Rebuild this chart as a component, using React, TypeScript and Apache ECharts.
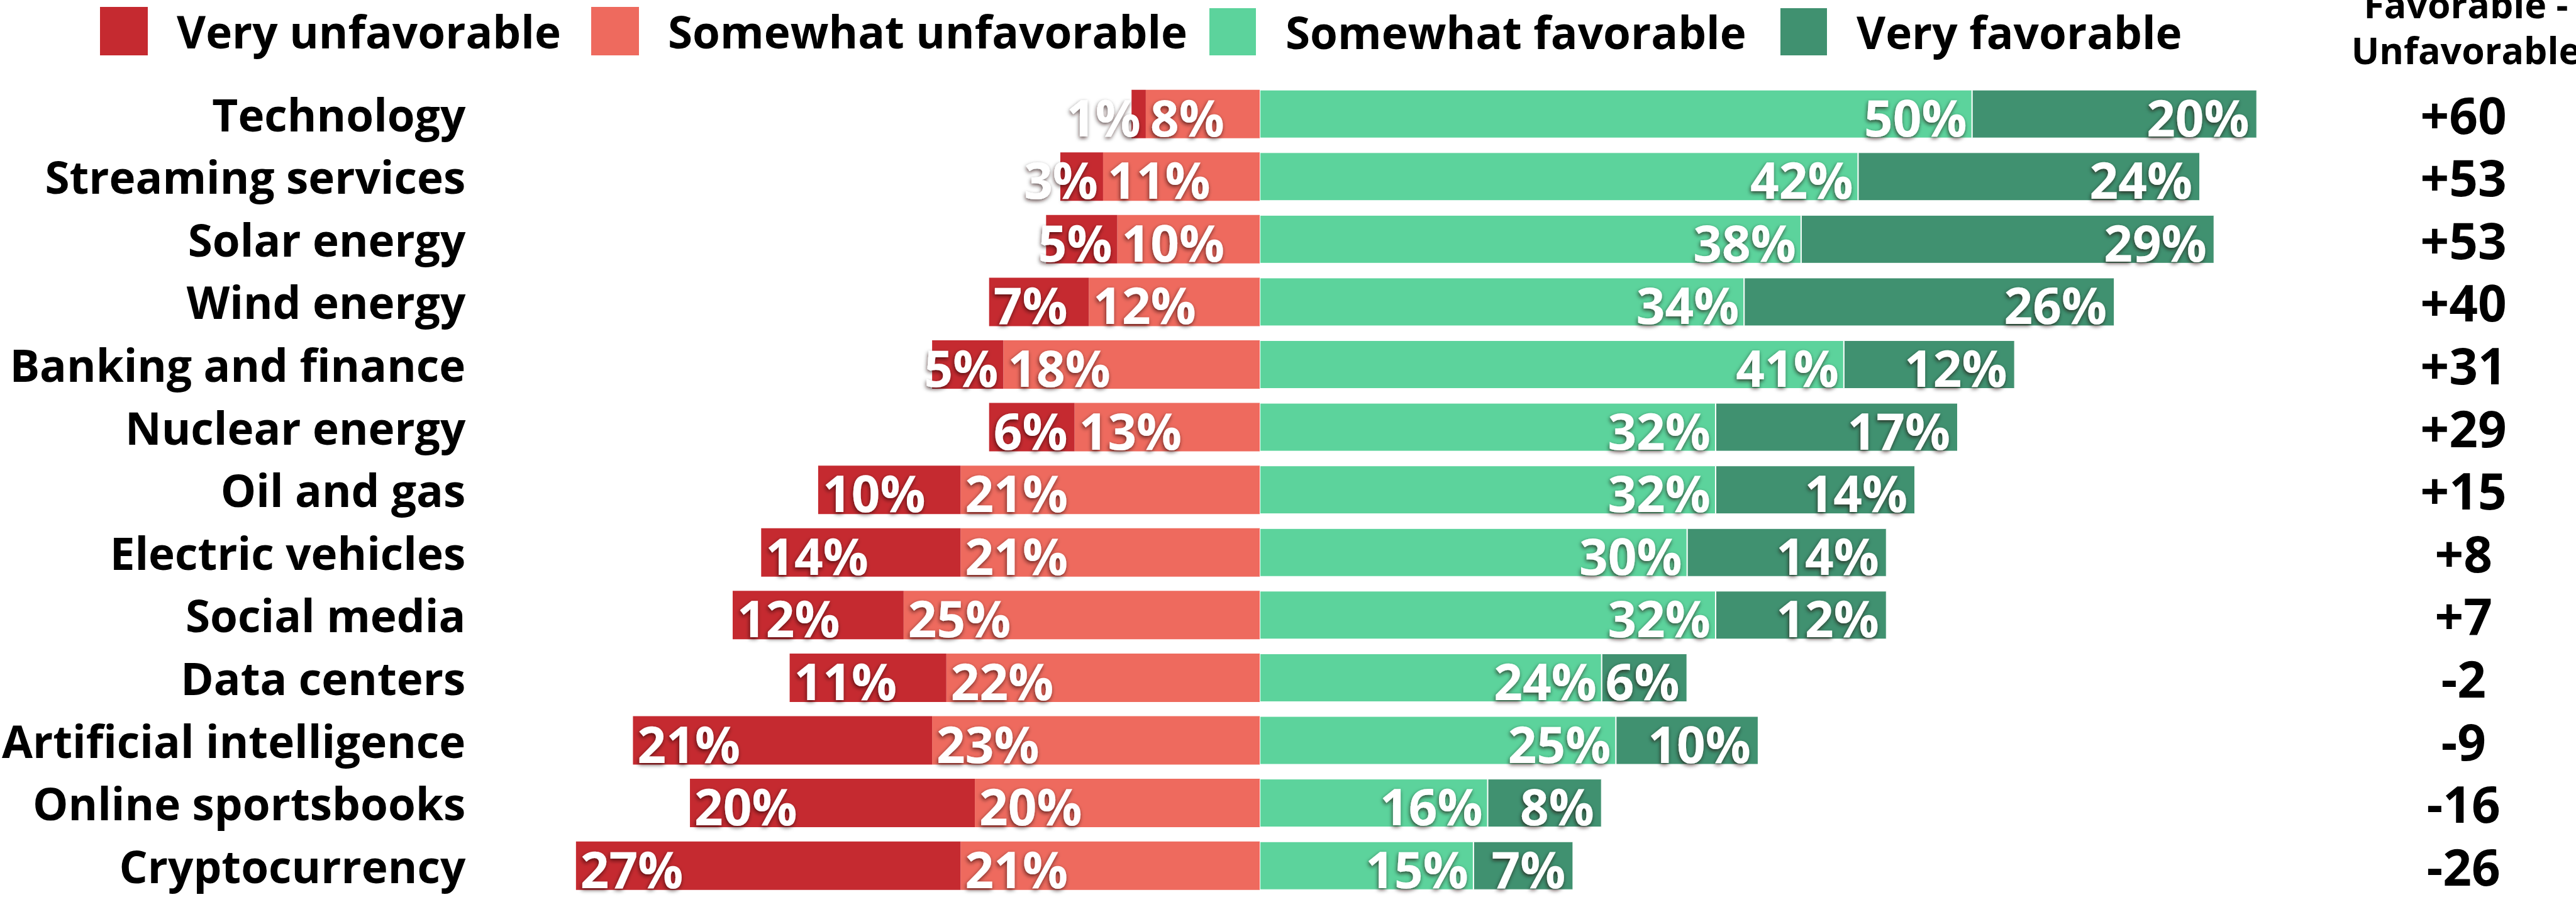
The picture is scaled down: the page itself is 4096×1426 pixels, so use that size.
import React, { useEffect, useRef } from "react";
import * as echarts from "echarts";

const categories = [
  "Technology",
  "Streaming services",
  "Solar energy",
  "Wind energy",
  "Banking and finance",
  "Nuclear energy",
  "Oil and gas",
  "Electric vehicles",
  "Social media",
  "Data centers",
  "Artificial intelligence",
  "Online sportsbooks",
  "Cryptocurrency",
];
const veryUnfavorable = [1, 3, 5, 7, 5, 6, 10, 14, 12, 11, 21, 20, 27];
const somewhatUnfavorable = [8, 11, 10, 12, 18, 13, 21, 21, 25, 22, 23, 20, 21];
const somewhatFavorable = [50, 42, 38, 34, 41, 32, 32, 30, 32, 24, 25, 16, 15];
const veryFavorable = [20, 24, 29, 26, 12, 17, 14, 14, 12, 6, 10, 8, 7];
const netLabels = ["+60", "+53", "+53", "+40", "+31", "+29", "+15", "+8", "+7", "-2", "-9", "-16", "-26"];
const seriesNames = ["Very unfavorable", "Somewhat unfavorable", "Somewhat favorable", "Very favorable"];
const headerLines = ["Favorable -", "Unfavorable"];

const FONT = '"Open Sans", "Noto Sans", sans-serif';
const COLORS = {
  vu: "#C52A30",
  su: "#EE6A5E",
  sf: "#5CD39C",
  vf: "#409170",
};

export default function App() {
  const ref = useRef<HTMLDivElement>(null);
  useEffect(() => {
    document.body.style.margin = "0";
    document.body.style.overflow = "hidden";
    const chart = echarts.init(ref.current!, null, { renderer: "svg" });

    const pctLabel = {
      show: true,
      color: "#fff",
      fontFamily: FONT,
      fontWeight: "bold" as const,
      fontSize: 80,
      textShadowColor: "rgba(30,0,0,0.65)",
      textShadowBlur: 6,
      textShadowOffsetX: -1,
      textShadowOffsetY: 3,
      formatter: (p: any) => Math.abs(p.value) + "%",
      offset: [0, 4],
    };

    const legendX = [159, 940, 1921, 2829];

    const option: any = {
      animation: false,
      backgroundColor: "#fff",
      grid: { left: 746.6, right: 280.8, top: 131.4, height: 1295.5, containLabel: false },
      legend: seriesNames.map((n, i) => ({
        data: [n],
        left: legendX[i],
        top: 11,
        padding: 0,
        itemWidth: 76,
        itemHeight: 77,
        icon: "rect",
        textStyle: {
          fontFamily: FONT,
          fontWeight: "bold",
          fontSize: 71,
          color: "#000",
          padding: [0, 0, 0, 41],
        },
      })),
      xAxis: {
        type: "value",
        min: -55,
        max: 80,
        show: false,
        splitLine: { show: false },
      },
      yAxis: [
        {
          type: "category",
          data: categories,
          inverse: true,
          axisLine: { show: false },
          axisTick: { show: false },
          axisLabel: {
            interval: 0,
            margin: 17,
            color: "#000",
            fontFamily: FONT,
            fontWeight: "bold",
            fontSize: 71,
          },
        },
        {
          type: "category",
          data: netLabels,
          inverse: true,
          position: "right",
          axisLine: { show: false },
          axisTick: { show: false },
          axisLabel: {
            interval: 0,
            margin: 102,
            align: "center",
            color: "#000",
            fontFamily: FONT,
            fontWeight: "bold",
            fontSize: 80,
            lineHeight: 80,
          },
        },
      ],
      graphic: headerLines.map((t, i) => ({
        type: "text",
        x: 3921,
        y: 6 + i * 73,
        style: {
          text: t,
          fill: "#000",
          fontFamily: FONT,
          fontWeight: "bold",
          fontSize: 59,
          align: "center",
          verticalAlign: "middle",
        },
      })),
      series: [
        {
          name: seriesNames[1],
          type: "bar",
          stack: "total",
          barWidth: 77,
          itemStyle: { color: COLORS.su },
          label: { ...pctLabel, position: "insideLeft", distance: 7 },
          data: somewhatUnfavorable.map((v) => -v),
        },
        {
          name: seriesNames[0],
          type: "bar",
          stack: "total",
          barWidth: 77,
          itemStyle: { color: COLORS.vu },
          label: { ...pctLabel, position: "insideLeft", distance: 7 },
          data: veryUnfavorable.map((v) => ({
            value: -v,
            label: v <= 5 ? { position: "insideRight", distance: 8 } : undefined,
          })),
        },
        {
          name: seriesNames[2],
          type: "bar",
          stack: "total",
          barWidth: 77,
          itemStyle: { color: COLORS.sf, borderColor: "#fff", borderWidth: 1 },
          label: { ...pctLabel, position: "insideRight", distance: 8 },
          data: somewhatFavorable,
        },
        {
          name: seriesNames[3],
          type: "bar",
          stack: "total",
          barWidth: 77,
          itemStyle: { color: COLORS.vf, borderColor: "#fff", borderWidth: 1 },
          label: { ...pctLabel, position: "insideRight", distance: 12 },
          data: veryFavorable,
        },
      ],
    };
    chart.setOption(option);
    return () => chart.dispose();
  }, []);
  return <div ref={ref} style={{ width: 4096, height: 1426 }} />;
}
